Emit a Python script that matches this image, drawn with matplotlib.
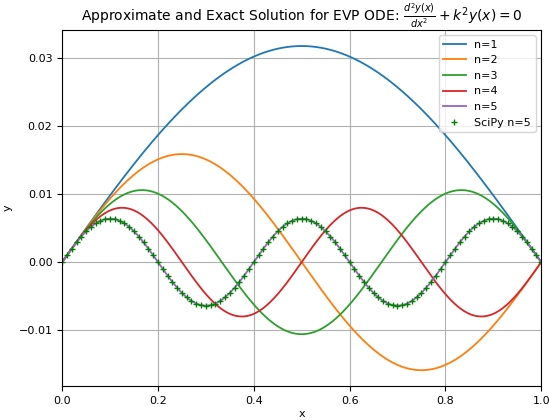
import matplotlib
matplotlib.use("Agg")
import matplotlib.pyplot as plt
import numpy as np

# mode numbers and peak amplitudes
modes = [1, 2, 3, 4, 5]
amplitudes = [0.0318, 0.0159, 0.0106, 0.0080, 0.0064]
labels = ["n=1", "n=2", "n=3", "n=4", "n=5"]
colors = ["#1f77b4", "#ff7f0e", "#2ca02c", "#d62728", "#9467bd"]

# grid used for the curves and the SciPy samples
x = np.linspace(0.0, 1.0, 400)
x_scipy = np.linspace(0.0, 1.0, 101)
scipy_mode = 5
scipy_amp = 0.0064

fig, ax = plt.subplots(figsize=(5.5, 4.2), dpi=100)

for n, a, lab, c in zip(modes, amplitudes, labels, colors):
    ax.plot(x, a * np.sin(n * np.pi * x), color=c, label=lab, linewidth=1.3)

ax.plot(x_scipy, scipy_amp * np.sin(scipy_mode * np.pi * x_scipy), "+",
        color="green", markersize=5, markeredgewidth=1.0, label="SciPy n=5")

ax.set_xlim(0, 1)
ax.set_title(r"Approximate and Exact Solution for EVP ODE: $\frac{d^2y(x)}{dx^2} + k^2y(x) = 0$",
             fontsize=10)
ax.set_xlabel("x", fontsize=8, labelpad=2)
ax.set_ylabel("y", fontsize=8)
ax.tick_params(labelsize=8)
ax.grid(True)
ax.legend(loc="upper right", fontsize=8)

fig.subplots_adjust(left=0.113, right=0.984, top=0.929, bottom=0.08)
fig.savefig("out.png", dpi=100)
